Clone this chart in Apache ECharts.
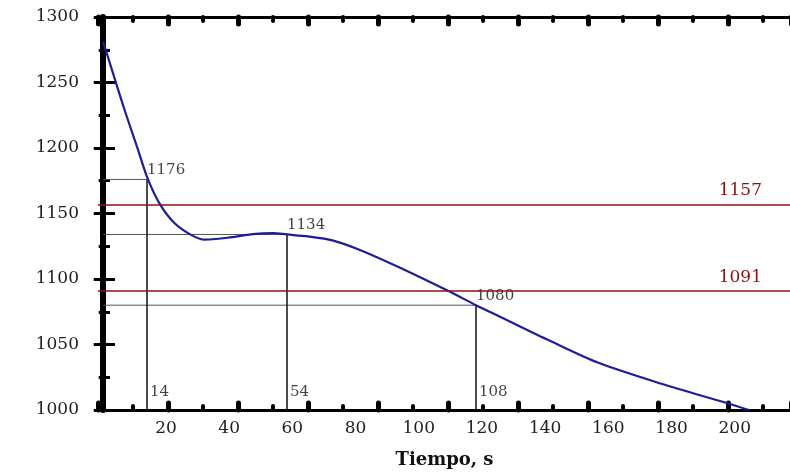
<!DOCTYPE html>
<html>
<head>
<meta charset="utf-8">
<script src="https://cdn.jsdelivr.net/npm/echarts@6/dist/echarts.min.js"></script>
<style>
  html, body { margin: 0; padding: 0; background: #fff; }
  #chart { width: 790px; height: 472px; }
</style>
</head>
<body>
<div id="chart"></div>
<script>
// curva de enfriamiento
const timeS = [1.5, 4.3, 7.6, 11.4, 14, 17.6, 21.9, 26.7, 30.5, 37, 45, 50, 54, 60, 67, 75, 86, 100, 108, 115, 129, 143, 161, 180, 186]
const tempC = [1281, 1257, 1229, 1199, 1178, 1157.5, 1142.5, 1133.5, 1130, 1131.5, 1134.5, 1135, 1134, 1132.5, 1129.5, 1122, 1109, 1091, 1080, 1071, 1053, 1036, 1020, 1005, 1000]

// puntos marcados con líneas guía
const guideTimes = [14, 54, 108]
const guideTemps = [1176, 1134, 1080]

// líneas horizontales rojas
const limitTemps = [1157, 1091]

// etiquetas del eje X
const xTickLabels = [20, 40, 60, 80, 100, 120, 140, 160, 180, 200]

const FONT = 'DejaVu Serif'
const X_MAX = 198

const chart = echarts.init(document.getElementById('chart'))

const curve = timeS.map((t, i) => [t, tempC[i]])

const tickAxis = (position) => ({
  type: 'value',
  position,
  min: 0,
  max: X_MAX,
  interval: 20,
  axisLine: { lineStyle: { color: '#000', width: 3 } },
  axisTick: { inside: true, length: 7, lineStyle: { color: '#000', width: 5, cap: 'round' } },
  minorTick: { show: true, splitNumber: 2, length: 4, lineStyle: { color: '#000', width: 4, cap: 'round' } },
  axisLabel: { show: false },
  splitLine: { show: false }
})

const yAxisBase = {
  type: 'value',
  min: 1000,
  max: 1300,
  interval: 50,
  splitLine: { show: false },
  minorSplitLine: { show: false }
}

const horizontals = guideTimes.map((t, i) => ({
  type: 'line',
  data: [[1.5, guideTemps[i]], [t, guideTemps[i]]],
  symbol: 'none',
  silent: true,
  lineStyle: { color: '#555', width: 1 },
  z: 1
}))

const verticals = guideTimes.map((t, i) => ({
  type: 'line',
  data: [[t, 1000], [t, guideTemps[i]]],
  symbol: 'none',
  silent: true,
  lineStyle: { color: '#111', width: 1.5 },
  z: 1
}))

const option = {
  animation: false,
  backgroundColor: '#fff',
  grid: { left: 98, top: 17, right: -1, bottom: 62, outerBoundsMode: 'none', containLabel: false },
  xAxis: [
    tickAxis('bottom'),
    {
      type: 'value',
      position: 'bottom',
      min: -1.5,
      max: 217.8,
      axisLine: { show: false },
      axisTick: { show: false },
      splitLine: { show: false },
      axisLabel: {
        customValues: xTickLabels,
        formatter: v => String(v),
        fontFamily: FONT,
        fontSize: 17,
        color: '#222',
        margin: 10
      },
      name: 'Tiempo, s',
      nameLocation: 'middle',
      nameGap: 41,
      nameTextStyle: { fontFamily: FONT, fontSize: 18, fontWeight: 'bold', color: '#111' }
    },
    tickAxis('top')
  ],
  yAxis: [
    Object.assign({}, yAxisBase, {
      position: 'left',
      offset: -5,
      axisLine: { show: true, lineStyle: { color: '#000', width: 6 } },
      axisTick: { inside: true, length: 12, lineStyle: { color: '#000', width: 3 } },
      minorTick: { show: true, splitNumber: 2, length: 7, lineStyle: { color: '#000', width: 3 } },
      axisLabel: { formatter: v => String(v), fontFamily: FONT, fontSize: 17, color: '#222', margin: 24 }
    }),
    Object.assign({}, yAxisBase, {
      position: 'right',
      axisLine: { show: false },
      axisTick: { inside: true, length: 9, lineStyle: { color: '#000', width: 3 } },
      minorTick: { show: true, splitNumber: 2, length: 4, lineStyle: { color: '#000', width: 3 } },
      axisLabel: { show: false }
    })
  ],
  series: [
    ...horizontals,
    ...verticals,
    {
      type: 'line',
      data: curve,
      smooth: 0.3,
      symbol: 'none',
      lineStyle: { color: '#1c1c9c', width: 2.2 },
      z: 3,
      markLine: {
        silent: true,
        symbol: 'none',
        lineStyle: { color: '#8b1010', width: 1.5, type: 'solid' },
        label: {
          position: 'insideEndTop',
          fontFamily: FONT,
          fontSize: 17,
          color: '#8b1010',
          padding: [0, 24, 0, 0],
          formatter: p => String(p.value)
        },
        data: limitTemps.map(v => ({ yAxis: v }))
      }
    },
    {
      type: 'scatter',
      data: guideTimes.map((t, i) => [t, guideTemps[i]]),
      symbolSize: 0,
      silent: true,
      label: {
        show: true,
        position: 'top',
        align: 'left',
        distance: 2,
        fontFamily: FONT,
        fontSize: 15,
        color: '#111',
        formatter: p => String(p.value[1])
      },
      z: 4
    },
    {
      type: 'scatter',
      data: guideTimes.map(t => [t, 1000]),
      symbolSize: 0,
      silent: true,
      label: {
        show: true,
        position: 'top',
        align: 'left',
        distance: 10,
        offset: [3, 0],
        fontFamily: FONT,
        fontSize: 15,
        color: '#111',
        formatter: p => String(p.value[0])
      },
      z: 4
    }
  ]
}

chart.setOption(option)
</script>
</body>
</html>
